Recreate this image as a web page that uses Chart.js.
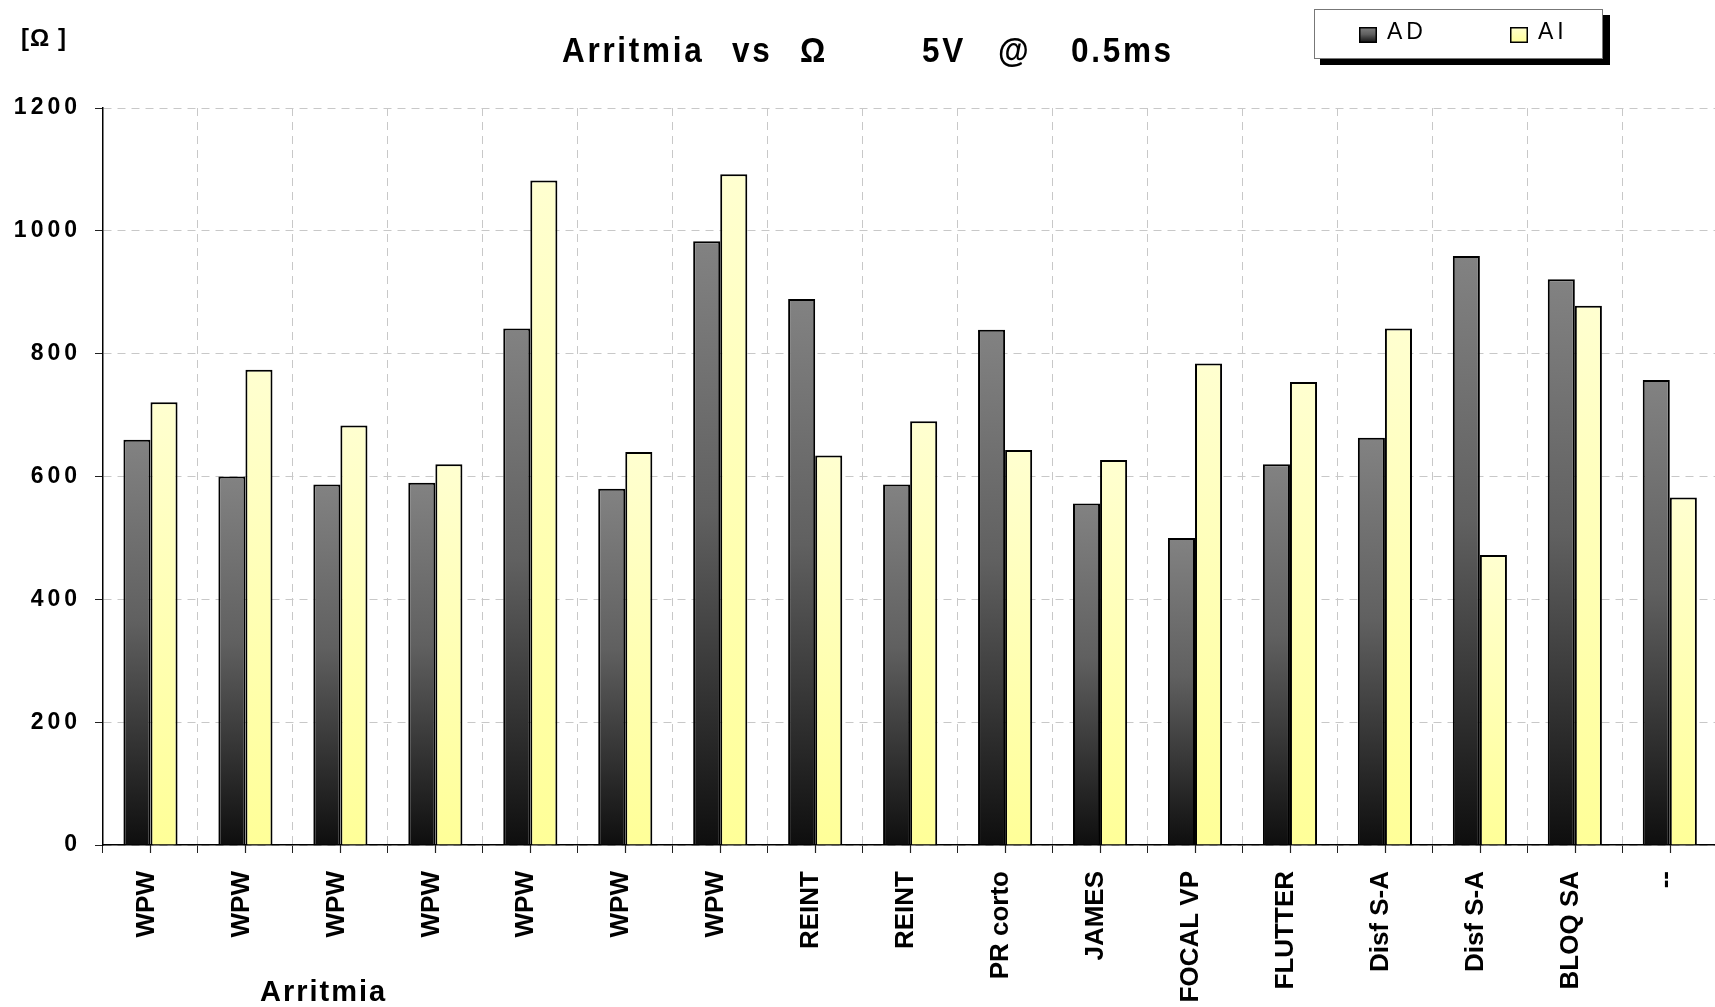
<!DOCTYPE html>
<html>
<head>
<meta charset="utf-8">
<script src="https://cdn.jsdelivr.net/npm/chart.js@4.4.1/dist/chart.umd.min.js"></script>
<style>
    html, body { margin: 0; padding: 0; background: #fff; overflow: hidden; }
    #wrap { position: relative; width: 1719px; height: 1007px; }
</style>
</head>
<body>
<div id="wrap"><canvas id="chart" width="1719" height="1007"></canvas></div>
<script>
const categories = ['WPW', 'WPW', 'WPW', 'WPW', 'WPW', 'WPW', 'WPW', 'REINT', 'REINT', 'PR corto',
    'JAMES', 'FOCAL VP', 'FLUTTER', 'Disf S-A', 'Disf S-A', 'BLOQ SA', '--'];
const adValues = [660, 600, 587, 590, 841, 580, 983, 889, 587, 839, 556, 500, 620, 663, 959, 921, 757];
const aiValues = [721, 774, 683, 620, 1082, 640, 1092, 634, 690, 643, 627, 784, 754, 841, 472, 878, 566];
const yMin = 0, yMax = 1200, yStep = 200;
const seriesLabels = ['AD', 'AI'];
const titleParts = ['Arritmia', 'vs', 'Ω', '5V', '@', '0.5ms'];
const yUnit = '[Ω ]';
const xTitle = 'Arritmia';

const AD_STOPS = [[0, '#828282'], [0.45, '#606060'], [1, '#0e0e0e']];
const AI_STOPS = [[0, '#ffffd0'], [1, '#ffff98']];

// per-bar vertical gradient, built from the y scale
function barGradient(stops) {
    return (ctx) => {
        const chart = ctx.chart;
        if (!chart.chartArea || ctx.type !== 'data') return stops[stops.length - 1][1];
        const y = chart.scales.y;
        const top = y.getPixelForValue(ctx.raw);
        const bottom = y.getPixelForValue(0);
        const g = chart.ctx.createLinearGradient(0, top, 0, bottom);
        stops.forEach(([o, c]) => g.addColorStop(o, c));
        return g;
    };
}

function drawSpaced(ctx, text, x, y, font, spacing, sx) {
    ctx.save();
    ctx.font = font;
    ctx.letterSpacing = spacing + 'px';
    ctx.textAlign = 'left';
    ctx.textBaseline = 'alphabetic';
    ctx.fillStyle = '#000';
    ctx.translate(x, y);
    ctx.scale(sx, 1);
    ctx.fillText(text, 0, 0);
    ctx.restore();
}

const decorPlugin = {
    id: 'decor',
    afterDatasetsDraw(chart) {
        // y tick labels are drawn after this (ticks z:1), letter-spaced
        chart.ctx.letterSpacing = '4px';
    },
    afterDraw(chart) {
        const ctx = chart.ctx;
        ctx.letterSpacing = '0px';
        const x = chart.scales.x;
        const area = chart.chartArea;

        // small tick marks at the centre of every category
        ctx.save();
        ctx.strokeStyle = '#222';
        ctx.lineWidth = 1.2;
        categories.forEach((c, i) => {
            const px = Math.round(x.getPixelForValue(i)) + 0.5;
            ctx.beginPath();
            ctx.moveTo(px, area.bottom);
            ctx.lineTo(px, area.bottom + 8);
            ctx.stroke();
        });
        ctx.restore();

        // title
        const titleX = [562, 732, 800, 922, 998, 1071];
        titleParts.forEach((t, i) => {
            drawSpaced(ctx, t, titleX[i], 62, 'bold 35px "Liberation Sans", Arial, sans-serif', 3, 0.9);
        });

        // y unit and x axis title
        drawSpaced(ctx, yUnit, 21, 46, 'bold 24px "Liberation Sans", Arial, sans-serif', 1, 1);
        drawSpaced(ctx, xTitle, 260, 1001, 'bold 29px "Liberation Sans", Arial, sans-serif', 2, 1);

        // legend box with shadow
        ctx.save();
        ctx.fillStyle = '#000';
        ctx.fillRect(1320, 15, 290, 50);
        ctx.fillStyle = '#fff';
        ctx.fillRect(1314, 9, 289, 50);
        ctx.strokeStyle = '#777';
        ctx.lineWidth = 1;
        ctx.strokeRect(1314.5, 9.5, 288, 49);
        const sw = [[1359, AD_STOPS], [1510, AI_STOPS]];
        chart.data.datasets.forEach((ds, i) => {
            const sx = sw[i][0];
            const stops = sw[i][1];
            const g = ctx.createLinearGradient(0, 27, 0, 43);
            stops.forEach(([o, c]) => g.addColorStop(o, c));
            ctx.fillStyle = g;
            ctx.fillRect(sx, 27, 18, 16);
            ctx.strokeStyle = '#000';
            ctx.lineWidth = 1.5;
            ctx.strokeRect(sx + 0.75, 27.75, 16.5, 14.5);
            drawSpaced(ctx, ds.label, sx + 28, 39, '23px "Liberation Sans", Arial, sans-serif', 4, 1);
        });
        ctx.restore();
    }
};

const ctx = document.getElementById('chart').getContext('2d');
const chart = new Chart(ctx, {
    type: 'bar',
    data: {
        labels: categories,
        datasets: [{
            label: seriesLabels[0],
            data: adValues,
            backgroundColor: barGradient(AD_STOPS),
            borderColor: '#000',
            borderWidth: 2
        }, {
            label: seriesLabels[1],
            data: aiValues,
            backgroundColor: barGradient(AI_STOPS),
            borderColor: '#000',
            borderWidth: 2
        }]
    },
    options: {
        responsive: false,
        animation: false,
        devicePixelRatio: 1,
        categoryPercentage: 0.57,
        barPercentage: 1,
        layout: { padding: { left: 0, right: 0, top: 108, bottom: 0 } },
        plugins: {
            legend: { display: false },
            title: { display: false },
            tooltip: { enabled: false }
        },
        scales: {
            x: {
                type: 'category',
                offset: true,
                afterFit: (s) => { s.height = 162; },
                grid: {
                    offset: true,
                    color: '#c8c8c8',
                    tickColor: '#222',
                    tickLength: 8,
                    tickBorderDash: []
                },
                border: { color: '#000', width: 1.5, dash: [8, 6] },
                ticks: {
                    autoSkip: false,
                    minRotation: 90,
                    maxRotation: 90,
                    padding: 18,
                    labelOffset: -4,
                    color: '#000',
                    font: { family: '"Liberation Sans", Arial, sans-serif', size: 26, weight: 'bold' }
                }
            },
            y: {
                min: yMin,
                max: yMax,
                afterFit: (s) => { s.width = 103; },
                grid: {
                    color: '#c8c8c8',
                    tickColor: '#222',
                    tickLength: 8,
                    tickBorderDash: []
                },
                border: { color: '#000', width: 1.5, dash: [8, 6] },
                ticks: {
                    stepSize: yStep,
                    padding: 14,
                    z: 1,
                    color: '#000',
                    callback: (v) => String(v),
                    font: { family: '"Liberation Sans", Arial, sans-serif', size: 23, weight: 'bold' }
                }
            }
        }
    },
    plugins: [decorPlugin]
});
</script>
</body>
</html>
